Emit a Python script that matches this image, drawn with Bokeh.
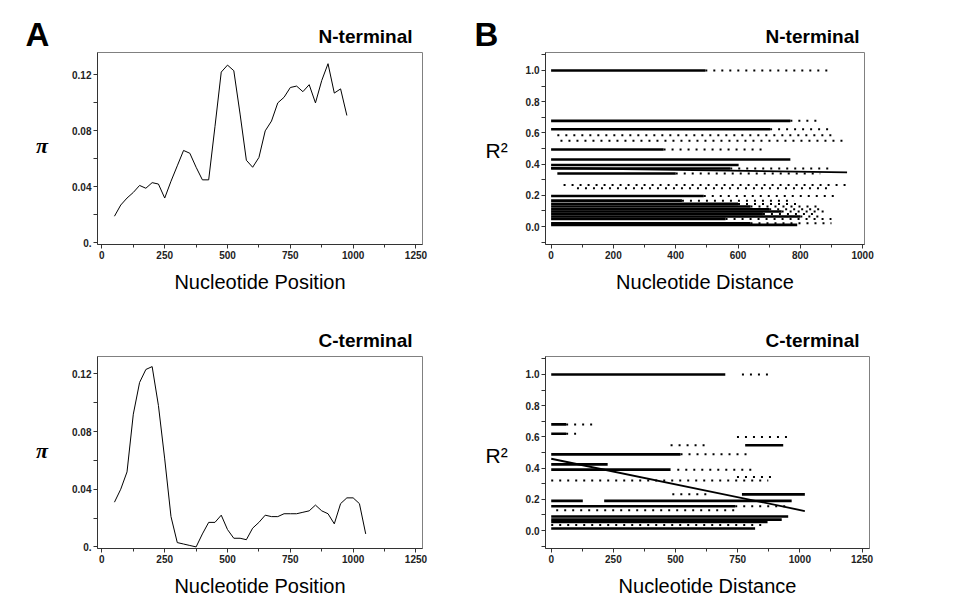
from bokeh.plotting import figure
from bokeh.layouts import column, row
from bokeh.models import FixedTicker, CustomJSTickFormatter, Range1d, ColumnDataSource
from bokeh.core.properties import value
from bokeh.embed import file_html
from bokeh.resources import INLINE

# ---------------- data ----------------
# Panel A: nucleotide diversity (pi) along the sequence
nt_pos = [50, 75, 100, 125, 150, 175, 200, 225, 250, 275, 300, 325, 350, 375, 400, 425,
          450, 475, 500, 525, 550, 575, 600, 625, 650, 675, 700, 725, 750, 775, 800, 825,
          850, 875, 900, 925, 950, 975]
nt_pi = [0.019, 0.027, 0.032, 0.036, 0.041, 0.039, 0.043, 0.042, 0.032, 0.044, 0.055, 0.066,
         0.064, 0.054, 0.045, 0.045, 0.083, 0.122, 0.127, 0.123, 0.092, 0.059, 0.054, 0.061,
         0.080, 0.087, 0.100, 0.104, 0.111, 0.112, 0.108, 0.113, 0.100, 0.116, 0.128, 0.107,
         0.110, 0.091]

ct_pos = [50, 75, 100, 125, 150, 175, 200, 225, 250, 275, 300, 325, 350, 375, 400, 425,
          450, 475, 500, 525, 550, 575, 600, 625, 650, 675, 700, 725, 750, 775, 800, 825,
          850, 875, 900, 925, 950, 975, 1000, 1025, 1050]
ct_pi = [0.031, 0.040, 0.052, 0.092, 0.114, 0.123, 0.125, 0.098, 0.061, 0.021, 0.003, 0.002,
         0.001, 0.000, 0.009, 0.017, 0.017, 0.022, 0.012, 0.006, 0.006, 0.005, 0.013, 0.017,
         0.022, 0.021, 0.021, 0.023, 0.023, 0.023, 0.024, 0.025, 0.029, 0.025, 0.023, 0.016,
         0.030, 0.034, 0.034, 0.030, 0.009]

pi_ticks = [0.0, 0.04, 0.08, 0.12]
pi_minor = [0.02, 0.06, 0.10]
pos_ticks = [0, 250, 500, 750, 1000, 1250]
pos_minor = [125, 375, 625, 875, 1125]

# Panel B: linkage disequilibrium (R^2) vs distance, as runs of points per R^2 level
# dense runs (points packed together)
nt_dense_r2 = [1.0, 0.677, 0.623, 0.494, 0.43, 0.394, 0.372, 0.34, 0.196,
               0.166, 0.145, 0.128, 0.111, 0.096, 0.081, 0.064, 0.049, 0.021, 0.011]
nt_dense_start = [0, 0, 0, 0, 0, 0, 0, 20, 0,
                  0, 0, 0, 0, 0, 0, 0, 0, 0, 0]
nt_dense_end = [495, 768, 703, 361, 768, 602, 575, 400, 490,
                420, 600, 640, 700, 740, 680, 800, 560, 640, 790]
# sparse runs (isolated points)
nt_sparse_r2 = [1.0, 0.677, 0.623, 0.585, 0.549, 0.494, 0.372, 0.34, 0.266, 0.245, 0.196,
                0.166, 0.145, 0.128, 0.111, 0.096, 0.081, 0.064, 0.049, 0.021]
nt_sparse_start = [495, 768, 703, 20, 30, 361, 575, 400, 40, 83, 490,
                   420, 600, 640, 700, 740, 680, 800, 560, 640]
nt_sparse_end = [902, 855, 907, 907, 944, 693, 896, 864, 955, 896, 917,
                 780, 790, 860, 870, 880, 850, 860, 900, 900]
nt_fit_x = [0, 950]
nt_fit_y = [0.375, 0.347]

ct_dense_r2 = [1.0, 0.68, 0.62, 0.546, 0.488, 0.424, 0.39, 0.232, 0.19, 0.19,
               0.156, 0.09, 0.07, 0.055, 0.013]
ct_dense_start = [0, 0, 0, 780, 0, 0, 0, 767, 0, 213,
                  0, 0, 0, 0, 0]
ct_dense_end = [700, 60, 60, 933, 520, 227, 480, 1020, 127, 967,
                740, 953, 927, 870, 820]
ct_sparse_r2 = [1.0, 0.68, 0.62, 0.60, 0.546, 0.488, 0.39, 0.343, 0.32, 0.232,
                0.156, 0.13, 0.035]
ct_sparse_start = [767, 60, 60, 747, 480, 520, 507, 747, 0, 487,
                   740, 20, 0]
ct_sparse_end = [893, 187, 100, 960, 633, 800, 813, 887, 873, 647,
                 960, 740, 860]
ct_fit_x = [0, 1020]
ct_fit_y = [0.46, 0.125]

r2_ticks = [0.0, 0.2, 0.4, 0.6, 0.8, 1.0]
r2_minor = [-0.1, 0.1, 0.3, 0.5, 0.7, 0.9, 1.1]
nt_dist_ticks = [0, 200, 400, 600, 800, 1000]
nt_dist_minor = [100, 300, 500, 700, 900]
ct_dist_ticks = [0, 250, 500, 750, 1000, 1250]
ct_dist_minor = [125, 375, 625, 875, 1125]

# ---------------- styling helpers ----------------
AX = "#333333"
FONT = "Liberation Sans"
PI_FONT = "Liberation Serif"


def make_fig(w, h, bl, br, bt, bb, xr, yr, title, title_offset):
    p = figure(width=w, height=h, output_backend="svg", toolbar_location=None,
               x_range=Range1d(*xr), y_range=Range1d(*yr),
               min_border_left=bl, min_border_right=br,
               min_border_top=bt, min_border_bottom=bb, title=title)
    p.grid.visible = False
    p.outline_line_color = "#808080"
    p.outline_line_width = 1
    p.background_fill_color = "white"
    p.border_fill_color = "white"
    p.title.align = "right"
    p.title.offset = title_offset
    p.title.standoff = 12
    p.title.text_font = FONT
    p.title.text_font_size = "19px"
    p.title.text_font_style = "bold"
    p.title.text_color = "black"
    for ax in (p.xaxis[0], p.yaxis[0]):
        ax.axis_line_color = AX
        ax.major_tick_line_color = AX
        ax.minor_tick_line_color = AX
        ax.major_tick_in = 0
        ax.major_tick_out = 4
        ax.minor_tick_in = 0
        ax.minor_tick_out = 4
        ax.major_label_text_font = FONT
        ax.major_label_text_font_size = "10px"
        ax.major_label_text_font_style = "bold"
        ax.major_label_text_color = "#222222"
        ax.major_label_standoff = 2
    p.xaxis.axis_label_text_font = FONT
    p.xaxis.axis_label_text_font_size = "20px"
    p.xaxis.axis_label_text_font_style = "normal"
    p.xaxis.axis_label_text_color = "black"
    p.xaxis.axis_label_standoff = 9
    p.xaxis.minor_tick_out = 3
    return p


def text_fig(w, h, bt, bb, y_top, y_bot, letter, letter_offset, items):
    # a blank side panel: its frame spans the same rows as the neighbouring plot frame,
    # y coordinates are page pixels; the panel letter is the panel's own title
    f = figure(width=w, height=h, output_backend="svg", toolbar_location=None,
               x_range=Range1d(0, w), y_range=Range1d(y_bot, y_top),
               min_border_left=0, min_border_right=0,
               min_border_top=bt, min_border_bottom=bb,
               x_axis_location=None, y_axis_location=None, title=letter)
    f.grid.visible = False
    f.outline_line_color = None
    f.background_fill_color = "white"
    f.border_fill_color = "white"
    f.title.align = "left"
    f.title.offset = letter_offset
    f.title.standoff = 0
    f.title.text_font = FONT
    f.title.text_font_size = "33px"
    f.title.text_font_style = "bold"
    f.title.text_color = "black"
    for x, y, t, size, style, align, baseline, font in items:
        f.text(x=[x], y=[y], text=[t], text_font=value(font), text_font_size=size,
               text_font_style=style, text_align=align, text_baseline=baseline,
               text_color="black")
    return f


def pi_fig(w, h, bt, bb, yr, pos, pi, title):
    p = make_fig(w, h, 37, 51, bt, bb, (-17.5, 1276), yr, title, 10)
    p.line(pos, pi, line_color="black", line_width=1)
    p.yaxis.ticker = FixedTicker(ticks=pi_ticks, minor_ticks=pi_minor)
    p.yaxis.formatter = CustomJSTickFormatter(code="return tick == 0 ? '0.' : tick.toFixed(2);")
    p.xaxis.ticker = FixedTicker(ticks=pos_ticks, minor_ticks=pos_minor)
    p.xaxis.axis_label = "Nucleotide Position"
    return p


def ld_fig(w, h, bt, bb, br, xr, dticks, dminor, d_r2, d_s, d_e, s_r2, s_s, s_e, fx, fy,
           title, title_offset):
    p = make_fig(w, h, 32, br, bt, bb, xr, (-0.115, 1.115), title, title_offset)
    dense = ColumnDataSource(dict(x0=d_s, x1=d_e, y=d_r2))
    sparse = ColumnDataSource(dict(x0=s_s, x1=s_e, y=s_r2))
    p.segment(x0="x0", y0="y", x1="x1", y1="y", source=dense,
              line_color="black", line_width=2.6)
    p.segment(x0="x0", y0="y", x1="x1", y1="y", source=sparse,
              line_color="black", line_width=2, line_dash="2 6")
    p.line(fx, fy, line_color="black", line_width=1.8)
    p.yaxis.ticker = FixedTicker(ticks=r2_ticks, minor_ticks=r2_minor)
    p.yaxis.formatter = CustomJSTickFormatter(code="return tick.toFixed(1);")
    p.xaxis.ticker = FixedTicker(ticks=dticks, minor_ticks=dminor)
    p.xaxis.axis_label = "Nucleotide Distance"
    return p


tA1 = text_fig(60, 300, 52, 56, 52, 244, "A", 25,
               [(41.5, 145, "\u03c0", "22px", "bold italic", "center", "middle", PI_FONT)])
tB1 = text_fig(40, 300, 52, 56, 52, 244, "B", 1,
               [(12, 150, "R\u00b2", "21px", "normal", "left", "alphabetic", FONT)])
tA2 = text_fig(60, 300, 56, 52, 356, 548, "", 0,
               [(41.5, 450, "\u03c0", "22px", "bold italic", "center", "middle", PI_FONT)])
tB2 = text_fig(40, 300, 56, 52, 356, 548, "", 0,
               [(12, 455, "R\u00b2", "21px", "normal", "left", "alphabetic", FONT)])

p1 = pi_fig(413, 300, 52, 56, (-0.0012, 0.136), nt_pos, nt_pi, "N-terminal")
p2 = ld_fig(445, 300, 52, 56, 94, (-18, 1006), nt_dist_ticks, nt_dist_minor,
            nt_dense_r2, nt_dense_start, nt_dense_end,
            nt_sparse_r2, nt_sparse_start, nt_sparse_end, nt_fit_x, nt_fit_y, "N-terminal", 5)
p3 = pi_fig(413, 300, 56, 52, (-0.0011, 0.132), ct_pos, ct_pi, "C-terminal")
p4 = ld_fig(445, 300, 56, 52, 89, (-23, 1280), ct_dist_ticks, ct_dist_minor,
            ct_dense_r2, ct_dense_start, ct_dense_end,
            ct_sparse_r2, ct_sparse_start, ct_sparse_end, ct_fit_x, ct_fit_y, "C-terminal", 10)

layout = column(row(tA1, p1, tB1, p2), row(tA2, p3, tB2, p4))
open("out.html", "w").write(file_html(layout, INLINE))
